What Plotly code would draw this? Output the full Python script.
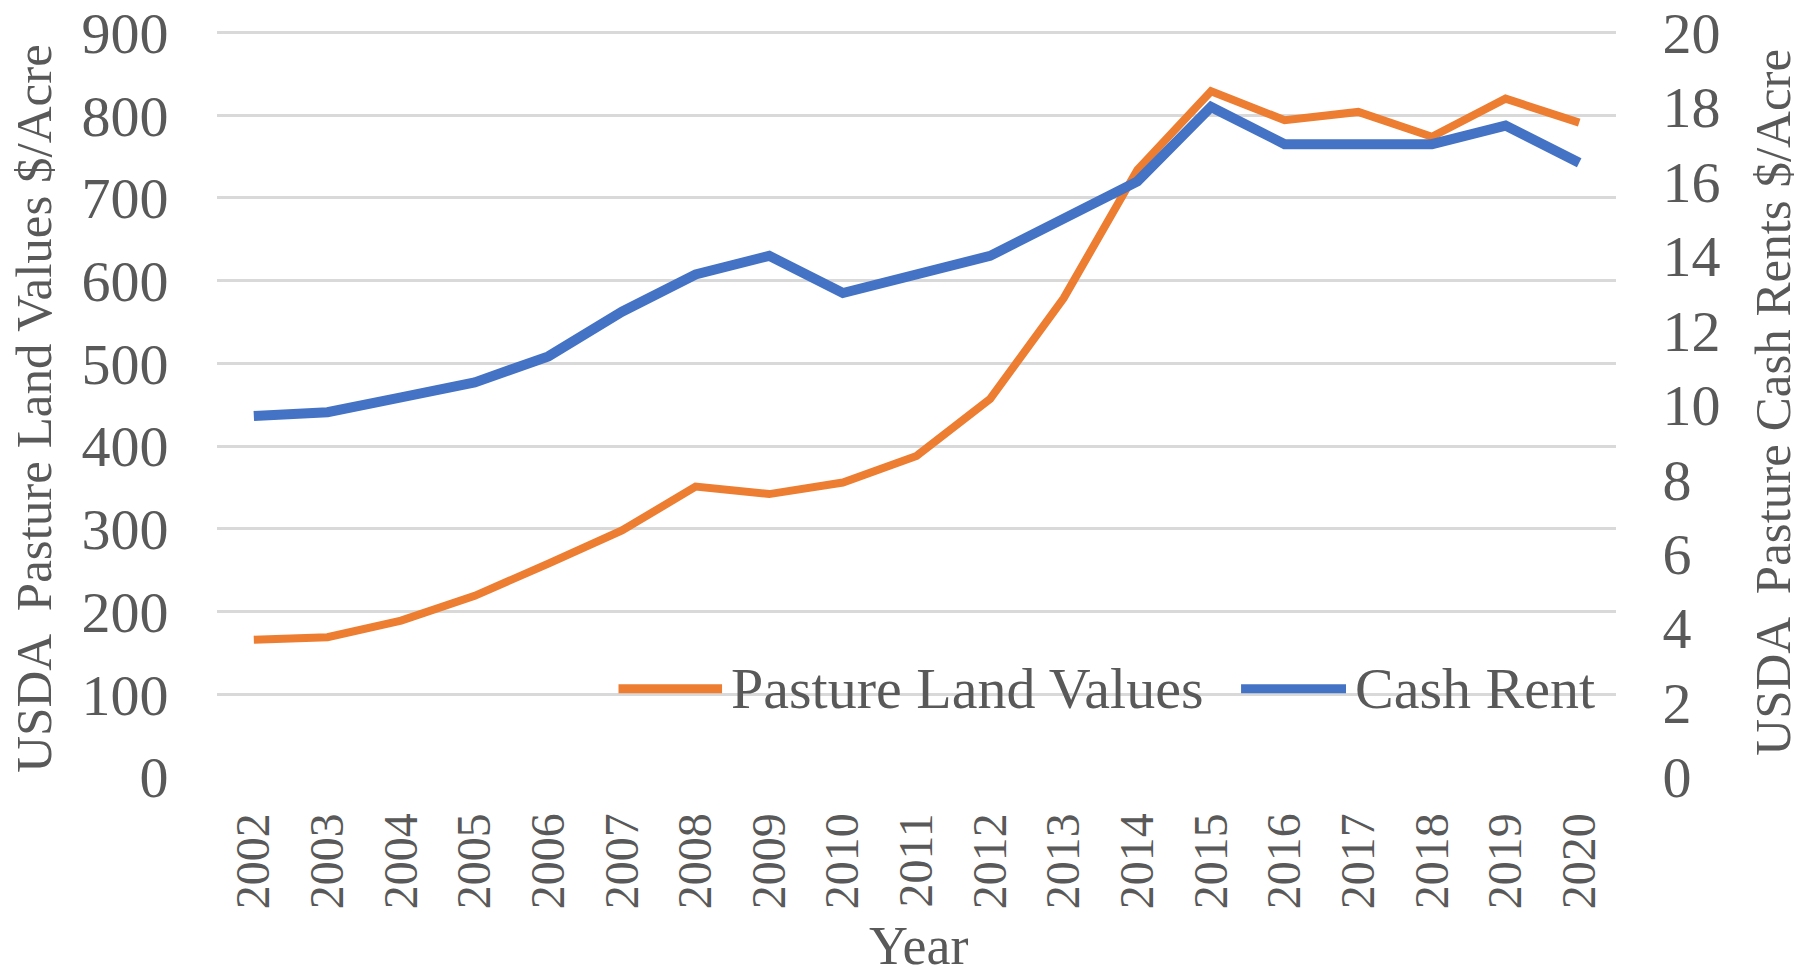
import plotly.graph_objects as go

years = [str(y) for y in range(2002, 2021)]
land_values = [166, 169, 189, 219, 258, 298, 351, 342, 356, 388, 457, 579, 734, 829, 794, 804, 774, 820, 791]
cash_rent = [9.7, 9.8, 10.2, 10.6, 11.3, 12.5, 13.5, 14.0, 13.0, 13.5, 14.0, 15.0, 16.0, 18.0, 17.0, 17.0, 17.0, 17.5, 16.5]
left_ticks = list(range(0, 1000, 100))
right_ticks = list(range(0, 22, 2))

ORANGE = "#ED7D31"
BLUE = "#4472C4"
GRAY = "#595959"
FONT = "Liberation Serif"
FS = 51      # rotated titles
FSX = 48     # rotated x tick labels
FSH = 58     # horizontal texts

TOP_L = 903.0
TOP_R = TOP_L / 45.0

fig = go.Figure()
fig.add_trace(go.Scatter(x=years, y=land_values, mode="lines", name="Pasture Land Values",
                         line=dict(color=ORANGE, width=8), yaxis="y"))
fig.add_trace(go.Scatter(x=years, y=cash_rent, mode="lines", name="Cash Rent",
                         line=dict(color=BLUE, width=10), yaxis="y2"))

fig.update_layout(
    width=1812, height=975,
    margin=dict(l=217, r=196, t=30, b=198),
    paper_bgcolor="white", plot_bgcolor="white",
    showlegend=False,
    font=dict(family=FONT, color=GRAY, size=FS),
    xaxis=dict(type="category", tickangle=-90, showgrid=False, showline=False, zeroline=False,
               automargin=False,
               ticks="outside", ticklen=16, tickcolor="rgba(0,0,0,0)",
               tickfont=dict(family=FONT, size=FSX, color=GRAY), range=[-0.5, 18.5]),
    yaxis=dict(range=[0, TOP_L], tickvals=left_ticks, showgrid=True, gridcolor="#D9D9D9", gridwidth=3,
               automargin=False, ticklabeloverflow="allow",
               zeroline=False, showline=False, ticks="outside", ticklen=36, tickcolor="rgba(0,0,0,0)",
               tickfont=dict(family=FONT, size=FSH, color=GRAY)),
    yaxis2=dict(range=[0, TOP_R], tickvals=right_ticks, overlaying="y", side="right", showgrid=False,
                automargin=False, ticklabeloverflow="allow",
                zeroline=False, showline=False, ticks="outside", ticklen=34, tickcolor="rgba(0,0,0,0)",
                tickfont=dict(family=FONT, size=FSH, color=GRAY)),
)

annos = [
    dict(text="USDA  Pasture Land Values $/Acre", x=-0.131, y=0.494, textangle=-90, size=FS),
    dict(text="USDA  Pasture Cash Rents $/Acre", x=1.112, y=0.502, textangle=-90, size=FS),
    dict(text="Year", x=0.502, y=-0.226, textangle=0, size=54),
]
for a in annos:
    sz = a.pop("size")
    fig.add_annotation(xref="paper", yref="paper", showarrow=False, xanchor="center", yanchor="middle",
                       font=dict(family=FONT, size=sz, color=GRAY), **a)

# custom legend
leg_y = 0.118
for x0, x1, col, label in [(0.287, 0.361, ORANGE, "Pasture Land Values"), (0.732, 0.807, BLUE, "Cash Rent")]:
    fig.add_shape(type="line", xref="paper", yref="paper", x0=x0, x1=x1, y0=leg_y, y1=leg_y,
                  line=dict(color=col, width=9))
    fig.add_annotation(xref="paper", yref="paper", x=x1 + 0.005, y=leg_y, text=label, showarrow=False,
                       xanchor="left", yanchor="middle", font=dict(family=FONT, size=FSH, color=GRAY))

fig.write_html("out.html", config={"displayModeBar": False},
               post_script="document.body.style.margin='0';document.body.style.overflow='hidden';")
